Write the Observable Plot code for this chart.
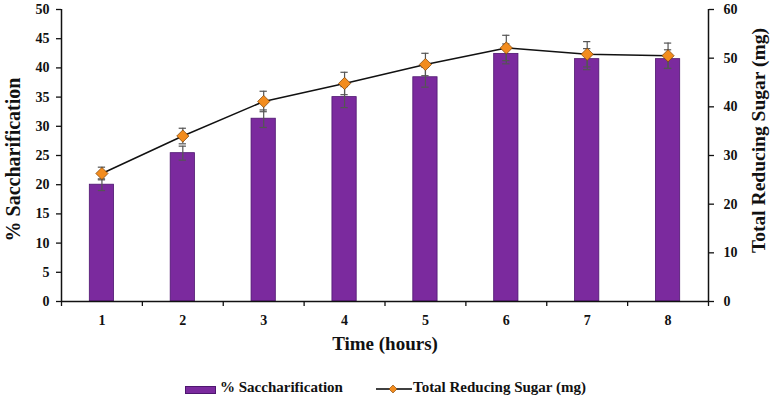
<!DOCTYPE html>
<html>
<head>
<meta charset="utf-8">
<script src="https://cdn.jsdelivr.net/npm/d3@7"></script>
<script src="https://cdn.jsdelivr.net/npm/@observablehq/plot@0.6"></script>
<style>
  html, body { margin: 0; padding: 0; background: #fff; }
  #wrap { width: 775px; font-family: "Liberation Serif", "Times New Roman", serif; font-weight: bold; }
  #legend { position: relative; width: 775px; height: 41px; font-size: 15px; color: #111; }
  #legend .sw { position: absolute; left: 185px; top: 26px; width: 29px; height: 6px; background: #7b2a9e; border: 1px solid #4e1670; }
  #legend .t1 { position: absolute; left: 220px; top: 19px; white-space: nowrap; }
  #legend .ln { position: absolute; left: 376px; top: 22px; }
  #legend .t2 { position: absolute; left: 413px; top: 19px; white-space: nowrap; }
</style>
</head>
<body>
<div id="wrap">
  <div id="chart"></div>
  <div id="legend">
    <div class="sw"></div>
    <div class="t1">% Saccharification</div>
    <svg class="ln" width="36" height="14"><line x1="0" y1="7" x2="36" y2="7" stroke="#000" stroke-width="1.3"/><path d="M17,3 L21,7 L17,11 L13,7 Z" fill="#f28c1e" stroke="#7a3d00" stroke-width="0.6"/></svg>
    <div class="t2">Total Reducing Sugar (mg)</div>
  </div>
</div>
<script>
const hours = [1, 2, 3, 4, 5, 6, 7, 8];
const saccharification = [20.0, 25.4, 31.3, 35.0, 38.4, 42.4, 41.5, 41.5];
const saccharificationErr = [1.0, 1.2, 1.5, 1.8, 1.7, 1.7, 1.8, 1.6];
const reducingSugar = [26.3, 34.0, 41.1, 44.8, 48.7, 52.1, 50.8, 50.5];
const reducingSugarErr = [1.3, 1.6, 2.1, 2.3, 2.3, 2.6, 2.6, 2.6];
const leftTicks = [0, 5, 10, 15, 20, 25, 30, 35, 40, 45, 50];
const rightTicks = [0, 10, 20, 30, 40, 50, 60];
const leftMax = 50, rightMax = 60;
const leftTitle = "% Saccharification";
const rightTitle = "Total Reducing Sugar (mg)";
const xTitle = "Time (hours)";

const toLeft = v => v * leftMax / rightMax;

const bars = hours.map((h, i) => ({h, v: saccharification[i], e: saccharificationErr[i]}));
const pts = hours.map((h, i) => ({h, v: toLeft(reducingSugar[i]), lo: toLeft(reducingSugar[i] - reducingSugarErr[i]), hi: toLeft(reducingSugar[i] + reducingSugarErr[i])}));

const halfBar = 0.15, halfCap = 0.045;
const boundaries = d3.range(0.5, 8.51, 1);

const chart = Plot.plot({
  width: 775,
  height: 360,
  marginLeft: 61,
  marginRight: 67,
  marginTop: 9,
  marginBottom: 59,
  style: {fontFamily: "'Liberation Serif', 'Times New Roman', serif", fontWeight: "bold", fontSize: "14px", color: "#111", background: "white"},
  x: {type: "linear", domain: [0.5, 8.5]},
  y: {domain: [0, leftMax]},
  marks: [
    Plot.rectY(bars, {x1: d => d.h - halfBar, x2: d => d.h + halfBar, y1: 0, y2: "v", fill: "#7b2a9e", stroke: "#4e1670", strokeWidth: 0.8}),
    Plot.ruleX(bars, {x: "h", y1: d => d.v - d.e, y2: d => d.v + d.e, stroke: "#555", strokeWidth: 1.2}),
    Plot.ruleY(bars, {y: d => d.v - d.e, x1: d => d.h - halfCap, x2: d => d.h + halfCap, stroke: "#555", strokeWidth: 1.2}),
    Plot.ruleY(bars, {y: d => d.v + d.e, x1: d => d.h - halfCap, x2: d => d.h + halfCap, stroke: "#555", strokeWidth: 1.2}),
    Plot.ruleX(pts, {x: "h", y1: "lo", y2: "hi", stroke: "#555", strokeWidth: 1.2}),
    Plot.ruleY(pts, {y: "lo", x1: d => d.h - halfCap, x2: d => d.h + halfCap, stroke: "#555", strokeWidth: 1.2}),
    Plot.ruleY(pts, {y: "hi", x1: d => d.h - halfCap, x2: d => d.h + halfCap, stroke: "#555", strokeWidth: 1.2}),
    Plot.line(pts, {x: "h", y: "v", stroke: "#111", strokeWidth: 1.5}),
    Plot.dot(pts, {x: "h", y: "v", symbol: "diamond2", r: 5.5, fill: "#f28c1e", stroke: "#7a3d00", strokeWidth: 0.7}),
    Plot.ruleY([0], {stroke: "#111", strokeWidth: 1.5}),
    Plot.ruleX([0.5, 8.5], {stroke: "#111", strokeWidth: 1.5}),
    Plot.axisY(leftTicks, {anchor: "left", tickSize: 5, tickPadding: 7, strokeWidth: 1.3, label: leftTitle, labelAnchor: "center", labelArrow: "none", labelOffset: 56, fontSize: 14}),
    Plot.axisY(rightTicks.map(toLeft), {anchor: "right", tickSize: 5, tickPadding: 10, strokeWidth: 1.3, tickFormat: d => String(Math.round(d * rightMax / leftMax)), label: rightTitle, labelAnchor: "center", labelArrow: "none", labelOffset: 56, fontSize: 14}),
    Plot.axisX(boundaries, {anchor: "bottom", tickSize: 5, strokeWidth: 1.3, tickFormat: () => "", label: null}),
    Plot.axisX(hours, {anchor: "bottom", tickSize: 0, tickPadding: 14, fontSize: 14, label: xTitle, labelAnchor: "center", labelArrow: "none", labelOffset: 48})
  ]
});
chart.querySelectorAll("text").forEach(t => {
  const s = t.textContent.trim();
  const tr = t.getAttribute("transform") || "";
  if (s === leftTitle) { t.setAttribute("font-size", "20px"); t.setAttribute("transform", "translate(0,4) " + tr); }
  else if (s === rightTitle) { t.setAttribute("font-size", "19.5px"); t.setAttribute("transform", "translate(0,-15) " + tr); }
  else if (s === xTitle) { t.setAttribute("font-size", "19px"); }
});
document.getElementById("chart").appendChild(chart);
</script>
</body>
</html>
